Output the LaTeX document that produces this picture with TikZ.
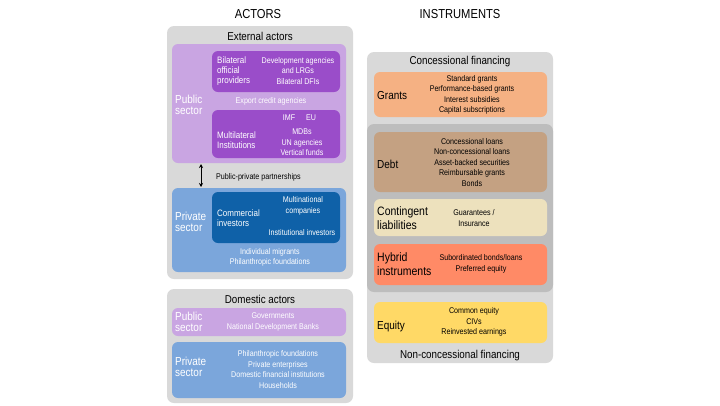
\documentclass[tikz,border=0pt]{standalone}
\usepackage{fontspec}
\setmainfont[FakeStretch=0.86]{Liberation Sans}
\usetikzlibrary{arrows.meta}
\definecolor{panelgray}{HTML}{D9D9D9}
\definecolor{darkgray}{HTML}{BDBDBD}
\definecolor{lavender}{HTML}{C9A5E2}
\definecolor{purple}{HTML}{9A4DC9}
\definecolor{lightblue}{HTML}{7BA6DB}
\definecolor{darkblue}{HTML}{0F61A8}
\definecolor{grantcol}{HTML}{F5B183}
\definecolor{debtcol}{HTML}{C4A182}
\definecolor{contcol}{HTML}{EDE1BD}
\definecolor{hybcol}{HTML}{FF8A66}
\definecolor{eqcol}{HTML}{FFD966}
\begin{document}
\begin{tikzpicture}[x=1pt, y=-1pt,
    panel/.style = {fill=panelgray, rounded corners=7pt, minimum width=186},
    box/.style = {rounded corners=6pt, minimum width=174},
    inbox/.style = {rounded corners=6pt, minimum width=128},
    head/.style = {inner sep=0pt, font=\fontsize{13}{15}\selectfont},
    title/.style = {inner sep=0pt, font=\fontsize{11.4}{13}\selectfont},
    big/.style = {inner sep=0pt, anchor=west, align=left, font=\fontsize{11.6}{11.5}\selectfont},
    mid/.style = {inner sep=0pt, align=left, font=\fontsize{9.3}{10.3}\selectfont},
    item/.style = {inner sep=0pt, align=center, font=\fontsize{8.3}{10.5}\selectfont}]
        \useasboundingbox[fill=white] (0,0) rectangle (720,405);
        \node[head] (act) at (258,14) {ACTORS};
        \node[head] (ins) at (460,14) {INSTRUMENTS};
        % external actors
        \node[panel, minimum height=253] (ext) at (260,152.5) {};
        \node[title] (extt) at (260,36) {External actors};
        \node[box, fill=lavender, minimum height=119] (pub) at (259,103.5) {};
        \node[inbox, fill=purple, minimum height=41] (bil) at (276,71.5) {};
        \node[inbox, fill=purple, minimum height=48] (mul) at (276,134) {};
        \node[big, white] (pubt) at (175,105) {Public\\sector};
        \node[mid, white, anchor=west] (bilt) at (217,71) {Bilateral\\official\\providers};
        \node[item, white] (bili) at (298,71) {Development agencies\\and LRGs\\Bilateral DFIs};
        \node[item, white] (eca) at (271,101) {Export credit agencies};
        \node[mid, white, anchor=west] (mult) at (217,140) {Multilateral\\Institutions};
        \node[item, white] (imf) at (289,118) {IMF};
        \node[item, white] (eu) at (311,118) {EU};
        \node[item, white] (muli) at (302,142.5) {MDBs\\UN agencies\\Vertical funds};
        \coordinate (ppa) at (201,164);
        \coordinate (ppb) at (201,187);
        \draw[{Stealth[length=4pt, width=4pt]}-{Stealth[length=4pt, width=4pt]}, line width=0.7pt] (ppa) -- (ppb);
        \node[item, anchor=west] (ppp) at (216,177) {Public-private partnerships};
        \node[box, fill=lightblue, minimum height=84] (priv) at (259,230) {};
        \node[inbox, fill=darkblue, minimum height=51] (com) at (276,217.5) {};
        \node[big, white] (privt) at (175,222) {Private\\sector};
        \node[mid, white, anchor=west] (comt) at (217,218) {Commercial\\investors};
        \node[item, white] (mnc) at (303,206) {Multinational\\companies};
        \node[item, white] (inst) at (302,233) {Institutional investors};
        \node[item, white] (privi) at (270,257.5) {Individual migrants\\Philanthropic foundations};
        % domestic actors
        \node[panel, minimum height=114] (dom) at (260,346) {};
        \node[title] (domt) at (260,299) {Domestic actors};
        \node[box, fill=lavender, minimum height=28] (dpub) at (259,322) {};
        \node[big, white] (dpubt) at (175,322) {Public\\sector};
        \node[item, white] (dpubi) at (273,322) {Governments\\National Development Banks};
        \node[box, fill=lightblue, minimum height=56] (dpriv) at (259,370) {};
        \node[big, white] (dprivt) at (175,367) {Private\\sector};
        \node[item, white] (dprivi) at (278,369.5) {Philanthropic foundations\\Private enterprises\\Domestic financial institutions\\Households};
        % instruments
        \node[panel, minimum height=311] (conc) at (460,207.5) {};
        \node[title] (conct) at (460,62) {Concessional financing};
        \node[panel, fill=darkgray, minimum height=168] (mix) at (460,208) {};
        \node[box, fill=grantcol, minimum width=173, minimum height=45] (gr) at (460.5,94.5) {};
        \node[big] (grt) at (377,96) {Grants};
        \node[item] (gri) at (472,95) {Standard grants\\Performance-based grants\\Interest subsidies\\Capital subscriptions};
        \node[box, fill=debtcol, minimum width=173, minimum height=60] (debt) at (460.5,162) {};
        \node[big] (debtt) at (377,164) {Debt};
        \node[item] (debti) at (472,162.5) {Concessional loans\\Non-concessional loans\\Asset-backed securities\\Reimbursable grants\\Bonds};
        \node[box, fill=contcol, minimum width=173, minimum height=37] (cont) at (460.5,217.5) {};
        \node[big, font=\fontsize{12.2}{13.5}\selectfont] (contt) at (377,218) {Contingent\\liabilities};
        \node[item] (conti) at (474,218) {Guarantees /\\Insurance};
        \node[box, fill=hybcol, minimum width=173, minimum height=41] (hyb) at (460.5,264.5) {};
        \node[big, font=\fontsize{12.2}{13.5}\selectfont] (hybt) at (377,264) {Hybrid\\instruments};
        \node[item] (hybi) at (481,264) {Subordinated bonds/loans\\Preferred equity};
        \node[box, fill=eqcol, minimum width=173, minimum height=41] (eq) at (460.5,322.5) {};
        \node[big] (eqt) at (377,326) {Equity};
        \node[item] (eqi) at (474,322) {Common equity\\CIVs\\Reinvested earnings};
        \node[title] (nonc) at (460,356) {Non-concessional financing};
    \end{tikzpicture}
\end{document}
